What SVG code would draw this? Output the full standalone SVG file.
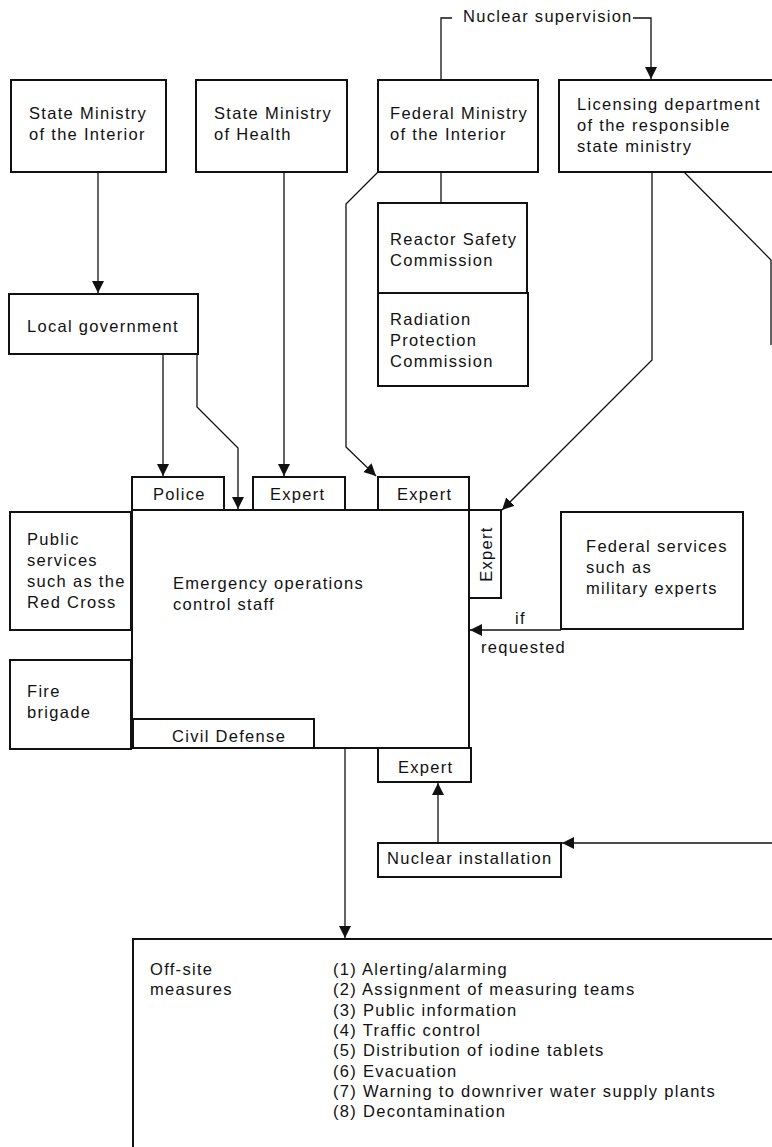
<svg xmlns="http://www.w3.org/2000/svg" width="772" height="1147" viewBox="0 0 772 1147">
  <style>
    text { font-family: "Liberation Sans", Arial, sans-serif; font-size: 16.5px; letter-spacing: 1.3px; fill: #111; }
    .box { fill: #fff; stroke: #111; stroke-width: 2; }
    .link { fill: none; stroke: #111; stroke-width: 1.3; }
  </style>
  <defs>
    <marker id="arrow" markerUnits="userSpaceOnUse" markerWidth="14" markerHeight="14" refX="12" refY="6" orient="auto">
      <path d="M0,0 L12,6 L0,12 Z" fill="#111"/>
    </marker>
  </defs>
  <rect width="772" height="1147" fill="#fff"/>

  <!-- connectors -->
  <g id="connectors">
    <path class="link" d="M441,80 V18 H452"/>
    <text x="463" y="22">Nuclear supervision</text>
    <path class="link" d="M633,18 H651 V79" marker-end="url(#arrow)"/>
    <path class="link" d="M98,172 V293" marker-end="url(#arrow)"/>
    <path class="link" d="M284,172 V476" marker-end="url(#arrow)"/>
    <path class="link" d="M163,354 V476" marker-end="url(#arrow)"/>
    <path class="link" d="M197,354 V407 L238,448 V509" marker-end="url(#arrow)"/>
    <path class="link" d="M441,172 V203"/>
    <path class="link" d="M378,172 L346,204 V447 L376,476" marker-end="url(#arrow)"/>
    <path class="link" d="M652,172 V360 L502,510" marker-end="url(#arrow)"/>
    <path class="link" d="M684,172 L771,260 V345"/>
    <path class="link" d="M561,630 H470" marker-end="url(#arrow)"/>
    <text x="515" y="624">if</text>
    <text x="481" y="653">requested</text>
    <path class="link" d="M772,843 H562" marker-end="url(#arrow)"/>
    <path class="link" d="M438,843 V783" marker-end="url(#arrow)"/>
    <path class="link" d="M345,748 V938" marker-end="url(#arrow)"/>
  </g>

  <g id="state-ministry-interior">
    <rect class="box" x="11" y="80" width="155" height="92"/>
    <text x="29" y="119">State Ministry</text>
    <text x="29" y="140">of the Interior</text>
  </g>
  <g id="state-ministry-health">
    <rect class="box" x="196" y="80" width="151" height="92"/>
    <text x="214" y="119">State Ministry</text>
    <text x="214" y="140">of Health</text>
  </g>
  <g id="federal-ministry-interior">
    <rect class="box" x="378" y="80" width="160" height="92"/>
    <text x="390" y="119">Federal Ministry</text>
    <text x="390" y="140">of the Interior</text>
  </g>
  <g id="licensing-department">
    <rect class="box" x="559" y="80" width="230" height="92"/>
    <text x="577" y="110">Licensing department</text>
    <text x="577" y="131">of the responsible</text>
    <text x="577" y="152">state ministry</text>
  </g>
  <g id="reactor-safety-commission">
    <rect class="box" x="378" y="203" width="149" height="90"/>
    <text x="390" y="245">Reactor Safety</text>
    <text x="390" y="266">Commission</text>
  </g>
  <g id="radiation-protection-commission">
    <rect class="box" x="378" y="293" width="150" height="93"/>
    <text x="390" y="325">Radiation</text>
    <text x="390" y="346">Protection</text>
    <text x="390" y="367">Commission</text>
  </g>
  <g id="local-government">
    <rect class="box" x="9" y="294" width="189" height="60"/>
    <text x="27" y="332">Local government</text>
  </g>

  <g id="emergency-staff">
    <rect class="box" x="132" y="510" width="337" height="238"/>
    <text x="173" y="589">Emergency operations</text>
    <text x="173" y="610">control staff</text>
  </g>
  <g id="police">
    <rect class="box" x="132" y="477" width="92" height="33"/>
    <text x="153" y="500">Police</text>
  </g>
  <g id="expert-health">
    <rect class="box" x="253" y="477" width="92" height="33"/>
    <text x="270" y="500">Expert</text>
  </g>
  <g id="expert-federal">
    <rect class="box" x="378" y="477" width="91" height="33"/>
    <text x="397" y="500">Expert</text>
  </g>
  <g id="expert-licensing">
    <rect class="box" x="469" y="510" width="32" height="88"/>
    <text transform="translate(492,554) rotate(-90)" text-anchor="middle">Expert</text>
  </g>
  <g id="public-services">
    <rect class="box" x="10" y="512" width="121" height="118"/>
    <text x="27" y="545">Public</text>
    <text x="27" y="566">services</text>
    <text x="27" y="587">such as the</text>
    <text x="27" y="608">Red Cross</text>
  </g>
  <g id="fire-brigade">
    <rect class="box" x="10" y="660" width="121" height="89"/>
    <text x="27" y="697">Fire</text>
    <text x="27" y="718">brigade</text>
  </g>
  <g id="civil-defense">
    <rect class="box" x="133" y="719" width="181" height="29"/>
    <text x="172" y="742">Civil Defense</text>
  </g>
  <g id="federal-services">
    <rect class="box" x="561" y="512" width="182" height="117"/>
    <text x="586" y="552">Federal services</text>
    <text x="586" y="573">such as</text>
    <text x="586" y="594">military experts</text>
  </g>
  <g id="expert-installation">
    <rect class="box" x="378" y="748" width="93" height="34"/>
    <text x="398" y="773">Expert</text>
  </g>
  <g id="nuclear-installation">
    <rect class="box" x="378" y="843" width="183" height="34"/>
    <text x="387" y="864">Nuclear installation</text>
  </g>

  <g id="off-site-measures">
    <rect class="box" x="133" y="939" width="660" height="230"/>
    <text x="150" y="975">Off-site</text>
    <text x="150" y="995">measures</text>
    <text x="333" y="975">(1) Alerting/alarming</text>
    <text x="333" y="995.3">(2) Assignment of measuring teams</text>
    <text x="333" y="1015.6">(3) Public information</text>
    <text x="333" y="1035.9">(4) Traffic control</text>
    <text x="333" y="1056.2">(5) Distribution of iodine tablets</text>
    <text x="333" y="1076.5">(6) Evacuation</text>
    <text x="333" y="1096.8">(7) Warning to downriver water supply plants</text>
    <text x="333" y="1117">(8) Decontamination</text>
  </g>
</svg>
